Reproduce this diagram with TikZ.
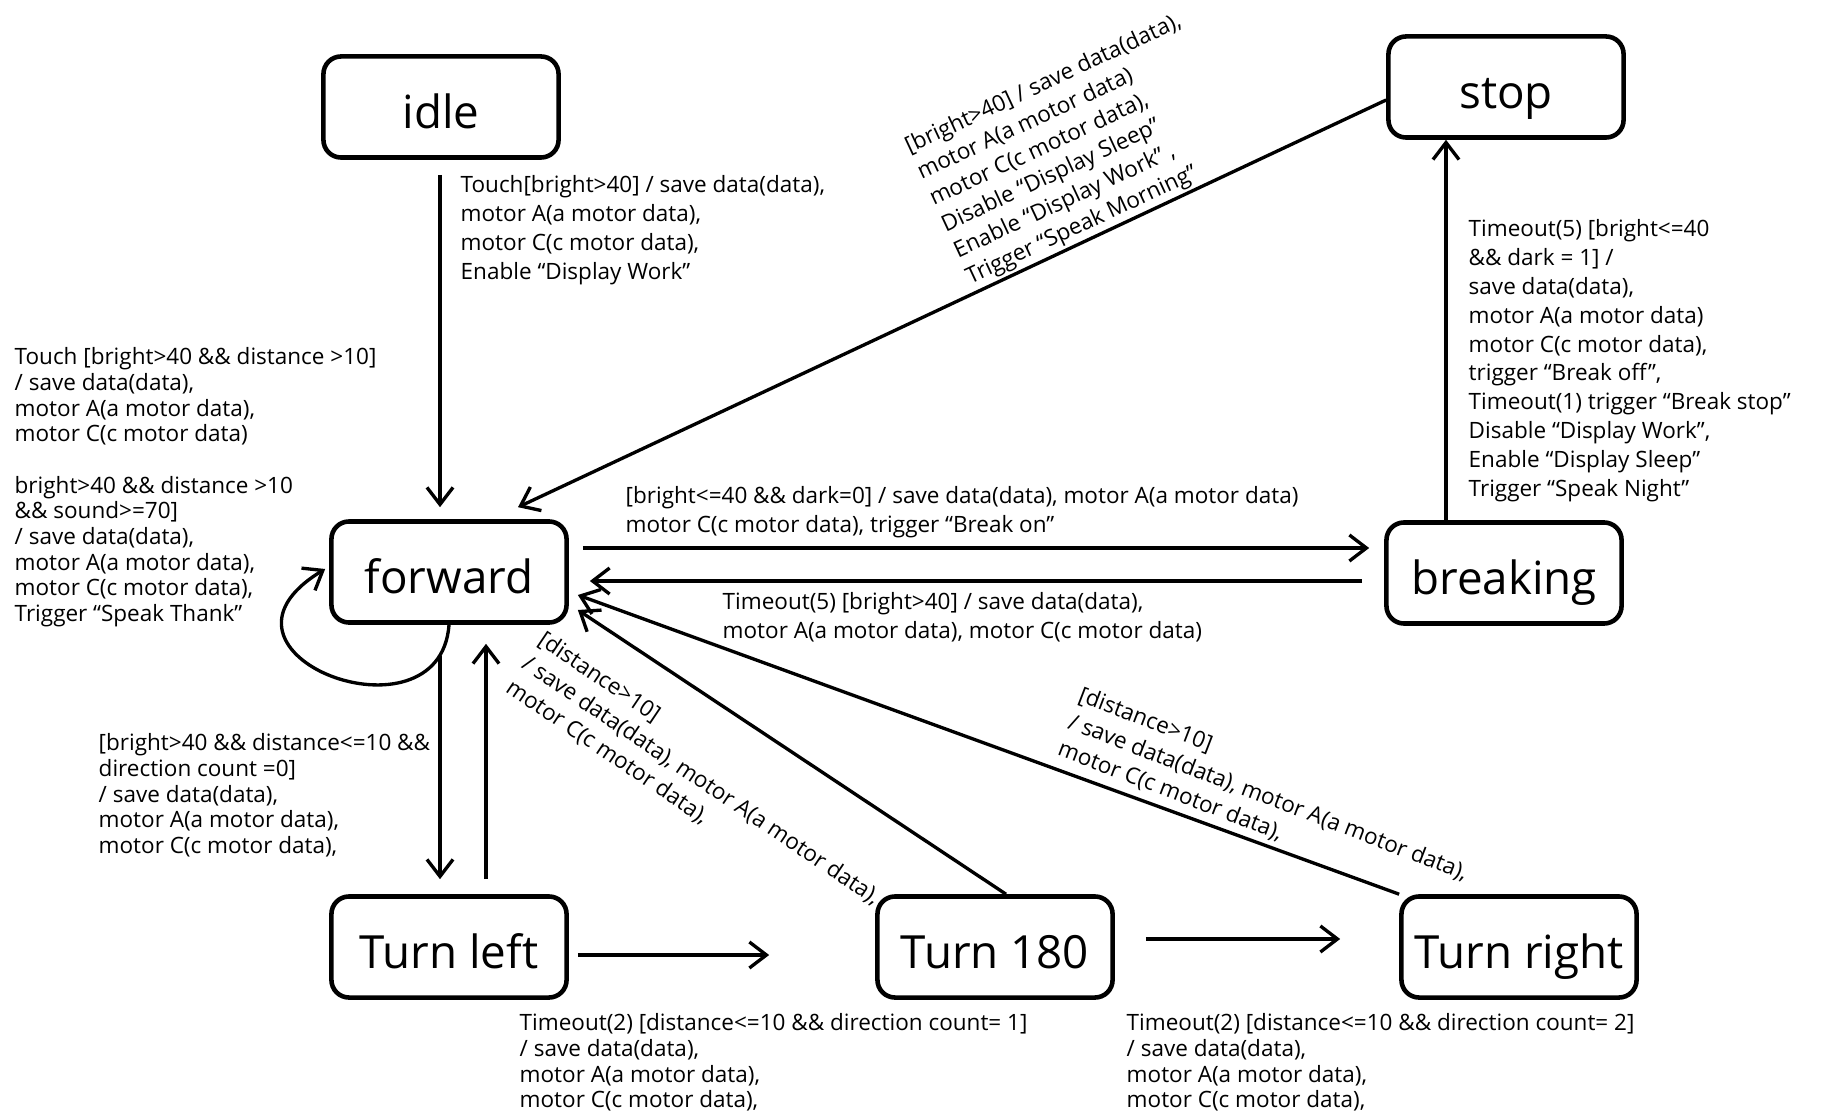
\documentclass[tikz,border=0pt]{standalone}
\usepackage{fontspec}
\setmainfont{Open Sans}
\usepackage{tikz}
\usetikzlibrary{arrows.meta,positioning,calc}

\begin{document}
\begin{tikzpicture}[x=0.01cm, y=-0.01cm,
        state/.style={draw, line width=1.3pt, rounded corners=5pt, minimum width=2.35cm, minimum height=1.01cm, inner sep=0pt, text height=0.46cm, text depth=0.04cm, font=\fontsize{13}{15}\selectfont},
        trans/.style={line width=0.95pt, -{Straight Barb[length=1.7mm, width=2.6mm]}},
        lbl/.style={align=left, inner sep=0pt, font=\fontsize{6.4}{8.2}\selectfont},
        lbltight/.style={lbl, font=\fontsize{6.4}{7.3}\selectfont}]
    \useasboundingbox (0,0) rectangle (1822,1113);

    % states
    \node[state] (idle) at (441,107) {idle};
    \node[state] (stop) at (1506,87) {stop};
    \node[state] (forward) at (449,572) {forward};
    \node[state] (breaking) at (1504,573) {breaking};
    \node[state] (turnleft) at (449,947) {Turn left};
    \node[state] (turn180) at (995,947) {Turn 180};
    \node[state] (turnright) at (1519,947) {Turn right};

    % transitions
    \draw[trans] ($(idle.south)+(-1,15)$) -- ($(forward.north)+(-9,-12)$);
    \draw[trans] ($(stop.west)+(0,13)$) -- ($(forward.north)+(69,-12)$);
    \draw[trans] ($(breaking.north)+(-58,0)$) -- ($(stop.south)+(-60,0)$);
    \draw[trans] ($(forward.east)+(14,-24)$) -- ($(breaking.west)+(-15,-25)$);
    \draw[trans] ($(breaking.west)+(-22,8)$) -- ($(forward.east)+(21,9)$);
    \draw[trans] (forward.south) .. controls +(-9,125) and +(-140,85) .. ($(forward.west)+(-4,-3)$);
    \draw[trans] ($(forward.south)+(-9,31)$) -- ($(turnleft.north)+(-9,-15)$);
    \draw[trans] ($(turnleft.north)+(37,-15)$) -- ($(forward.south)+(37,19)$);
    \draw[trans] ($(turnleft.east)+(9,8)$) -- ($(turn180.west)+(-106,8)$);
    \draw[trans] ($(turn180.east)+(31,-8)$) -- ($(turnright.west)+(-59,-8)$);
    \draw[trans] ($(turn180.north)+(11,0)$) -- ($(forward.east)+(9,38)$);
    \draw[trans] (turnright.north west) -- ($(forward.east)+(9,23)$);

    % guards and actions
    \node[lbl, anchor=north west] (lidle) at (460,175) {Touch[bright>40] / save data(data),\\ motor A(a motor data),\\ motor C(c motor data),\\ Enable “Display Work”};
    \node[lbltight, anchor=north west] (lloop) at (14,347) {Touch [bright>40 \&\& distance >10]\\ / save data(data),\\ motor A(a motor data),\\ motor C(c motor data)\\[7.3pt] bright>40 \&\& distance >10\\ \&\& sound>=70]\\ / save data(data),\\ motor A(a motor data),\\ motor C(c motor data),\\ Trigger “Speak Thank”};
    \node[lbl, rotate=25] (lstop) at (1074,150) {[bright>40] / save data(data),\\ motor A(a motor data)\\ motor C(c motor data),\\ Disable “Display Sleep”\\ Enable “Display Work” ,\\ Trigger “Speak Morning”};
    \node[lbl, anchor=north west] (lbrk) at (1468,219) {Timeout(5) [bright<=40\\ \&\& dark = 1] /\\ save data(data),\\ motor A(a motor data)\\ motor C(c motor data),\\ trigger “Break off”,\\ Timeout(1) trigger “Break stop”\\ Disable “Display Work”,\\ Enable “Display Sleep”\\ Trigger “Speak Night”};
    \node[lbl, anchor=north west] (lon) at (625,486) {[bright<=40 \&\& dark=0] / save data(data), motor A(a motor data)\\ motor C(c motor data), trigger “Break on”};
    \node[lbl, anchor=north west] (lback) at (722,592) {Timeout(5) [bright>40] / save data(data),\\ motor A(a motor data), motor C(c motor data)};
    \node[lbl, rotate=-34] (lret180) at (701,781) {[distance>10]\\ / save data(data), motor A(a motor data),\\ motor C(c motor data),};
    \node[lbl, rotate=-21] (lretright) at (1268,798) {[distance>10]\\ / save data(data), motor A(a motor data),\\ motor C(c motor data),};
    \node[lbltight, anchor=north west] (lturn) at (98,733) {[bright>40 \&\& distance<=10 \&\&\\ direction count =0]\\ / save data(data),\\ motor A(a motor data),\\ motor C(c motor data),};
    \node[lbltight, anchor=north west] (lone) at (519,1013) {Timeout(2) [distance<=10 \&\& direction count= 1]\\ / save data(data),\\ motor A(a motor data),\\ motor C(c motor data),};
    \node[lbltight, anchor=north west] (ltwo) at (1126,1013) {Timeout(2) [distance<=10 \&\& direction count= 2]\\ / save data(data),\\ motor A(a motor data),\\ motor C(c motor data),};
\end{tikzpicture}
\end{document}
